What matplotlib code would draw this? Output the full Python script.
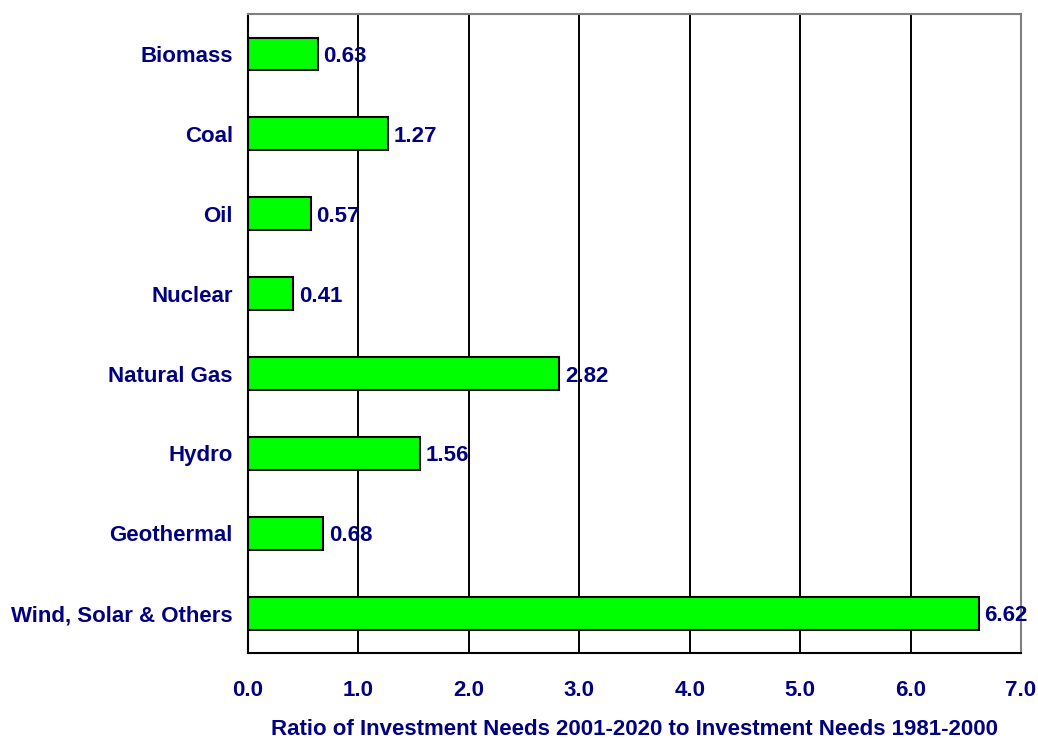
import matplotlib.pyplot as plt

categories = ['Biomass', 'Coal', 'Oil', 'Nuclear', 'Natural Gas', 'Hydro',
              'Geothermal', 'Wind, Solar & Others']
ratios = [0.63, 1.27, 0.57, 0.41, 2.82, 1.56, 0.68, 6.62]
x_ticks = [0, 1, 2, 3, 4, 5, 6, 7]

navy = '#000080'
plt.rcParams['font.family'] = ['Liberation Sans', 'DejaVu Sans']
plt.rcParams['font.weight'] = 'bold'

fig = plt.figure(figsize=(10.38, 7.38), dpi=100)
ax = fig.add_axes([0.239, 0.115, 0.7446, 0.866])

y = list(range(len(categories)))
ax.barh(y, ratios, height=0.41, color='#00ff00', edgecolor='black', linewidth=1.5, zorder=2)

# value labels just right of each bar
for yi, v in zip(y, ratios):
    ax.text(v + 0.05, yi, f'{v:.2f}', va='center_baseline', ha='left', color=navy,
            fontsize=16, fontweight='bold', zorder=4)

ax.set_xlim(0, 7)
ax.set_ylim(len(categories) - 0.5, -0.5)
ax.set_xticks(x_ticks)
ax.set_xticklabels([f'{t:.1f}' for t in x_ticks])
ax.set_yticks(y)
ax.set_yticklabels(categories)
ax.tick_params(axis='both', length=0, labelsize=16, labelcolor=navy)
ax.tick_params(axis='x', pad=19)
ax.tick_params(axis='y', pad=11)

ax.grid(axis='x', color='black', linewidth=1.4, zorder=1)
ax.set_axisbelow(True)

for side in ['left', 'bottom']:
    ax.spines[side].set_color('black')
    ax.spines[side].set_linewidth(1.5)
for side in ['top', 'right']:
    ax.spines[side].set_color('#808080')
    ax.spines[side].set_linewidth(1.5)

ax.set_xlabel('Ratio of Investment Needs 2001-2020 to Investment Needs 1981-2000',
              color=navy, fontsize=16, fontweight='bold', labelpad=13)

fig.savefig('out.png', dpi=100)
plt.close()
